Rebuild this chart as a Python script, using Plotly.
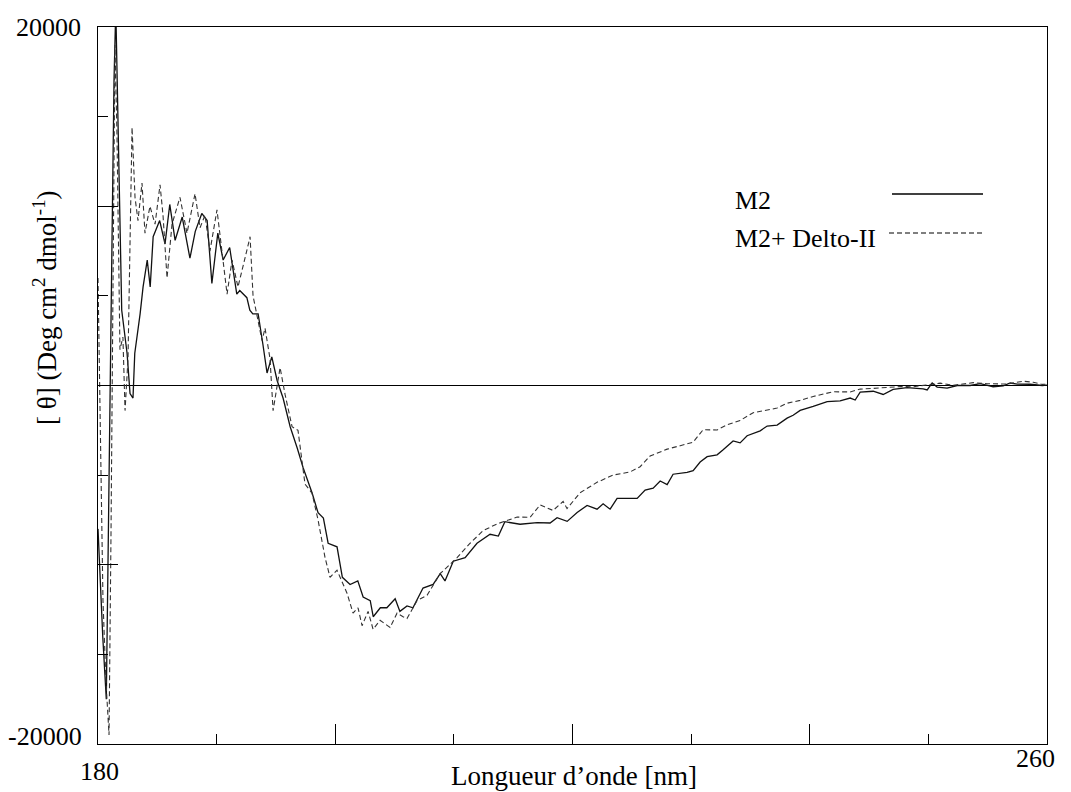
import plotly.graph_objects as go

# M2 (solid)
m2_nm = [180.0, 180.4, 180.7, 180.85, 181.1, 181.35, 181.5, 181.7, 181.85, 182.0, 182.45, 182.7, 182.95,
         183.1, 183.55, 183.8, 184.15, 184.4, 184.65, 185.2, 185.65, 186.05, 186.5, 187.1, 187.75, 188.2,
         188.75, 189.2, 189.6, 190.1, 190.55, 191.1, 191.7, 191.95, 192.55, 192.8, 193.05, 193.5, 193.9,
         194.25, 194.65, 195.1, 195.6, 196.2, 196.8, 197.3, 198.05, 198.55, 199.0, 199.4, 200.15, 200.6,
         201.25, 201.9, 202.35, 202.95, 203.2, 203.8, 204.35, 205.05, 205.45, 206.05, 206.55, 207.4,
         208.25, 208.85, 209.25, 209.95, 210.95, 211.95, 213.05, 213.75, 214.3, 215.58, 217.02, 218.11,
         218.7, 219.55, 220.39, 221.23, 222.07, 222.58, 223.17, 223.76, 224.6, 225.45, 226.12, 226.8,
         227.39, 227.98, 228.48, 229.66, 230.17, 230.76, 231.35, 232.19, 232.7, 233.54, 234.13, 234.72,
         235.82, 236.41, 237.25, 238.09, 238.6, 239.19, 240.29, 241.47, 242.56, 243.41, 243.83, 244.25,
         245.35, 246.19, 247.03, 248.21, 249.56, 249.9, 250.32, 250.74, 251.58, 252.43, 253.52, 254.37,
         255.46, 256.31, 256.9, 257.49, 258.58, 259.6, 260.0]
m2_theta = [-8000, -14000, -17500, -10000, 5000, 17000, 21000, 14000, 8000, 4200, 1800, -450, -700,
            1800, 4000, 5500, 7000, 5500, 8300, 9200, 7900, 10100, 8100, 9400, 7100, 8600,
            9600, 9200, 5700, 8500, 7000, 7700, 5100, 5300, 4900, 4200, 4000, 4000, 2300,
            700, 1600, 280, -700, -2300, -3500, -4600, -6000, -7100, -7400, -8800, -9000, -10700,
            -11100, -10900, -11800, -12000, -12900, -12400, -12400, -11900, -12600, -12300, -12400, -11300,
            -11100, -10500, -10900, -9800, -9600, -8800, -8300, -8400, -7600, -7740, -7650, -7670,
            -7370, -7580, -7085, -6690, -6900, -6600, -6900, -6300, -6300, -6300, -5830, -5730,
            -5330, -5530, -4950, -4850, -4750, -4270, -3970, -3870, -3585, -3090, -3200, -2800,
            -2530, -2260, -2210, -1820, -1660, -1390, -1170, -900, -860, -700, -810, -370,
            -320, -500, -220, -120, -190, -250, 140, -90, -150, 0, 0, 100,
            -70, -20, 140, 80, 70, 0, 20]

# M2 + Delto-II (dashed)
mix_nm = [180.0, 180.17, 180.42, 180.67, 180.93, 181.1, 181.26, 181.43, 181.6, 181.85, 182.1, 182.28,
          182.53, 182.87, 183.12, 183.37, 183.71, 183.96, 184.38, 184.81, 185.23, 185.48, 185.82, 186.24,
          186.91, 187.5, 188.18, 188.6, 189.02, 189.44, 190.03, 190.46, 190.88, 191.3, 191.8, 192.39,
          192.82, 193.07, 193.49, 193.83, 194.08, 194.5, 194.76, 195.09, 195.35, 195.77, 196.36, 196.86,
          197.45, 198.04, 198.55, 199.14, 199.56, 200.15, 200.57, 201.0, 201.5, 201.92, 202.26, 202.77,
          203.19, 203.78, 204.62, 205.21, 205.72, 206.05, 206.9, 207.74, 208.84, 210.27, 211.37, 212.46,
          213.64, 215.33, 216.43, 217.27, 218.36, 219.21, 219.54, 220.64, 222.07, 223.42, 224.86, 225.7,
          226.54, 227.98, 229.08, 230.17, 231.01, 232.19, 233.04, 234.13, 235.23, 236.41, 237.25, 238.09,
          239.19, 240.29, 241.97, 243.41, 244.25, 245.35, 246.53, 247.63, 248.72, 249.9, 250.99, 252.09,
          253.78, 254.96, 256.64, 257.99, 258.84, 259.6, 260.0]
mix_theta = [6000, -2000, -12000, -16500, -19500, -8000, 8000, 19000, 14000, 2000, 2700, -1400,
             1500, 14400, 10500, 9200, 11300, 8500, 10000, 9000, 11200, 9500, 6000, 9000,
             10500, 8500, 10700, 8800, 9500, 7500, 9800, 7500, 5100, 7000, 5500, 7100,
             8300, 5000, 3500, 2500, 3200, 1500, -1400, 0, 1000, -500, -2300, -2500,
             -5500, -6000, -7500, -9600, -10700, -10300, -10900, -11600, -12700, -12400, -13400, -12600,
             -13600, -13100, -13500, -12700, -12900, -13000, -12000, -11700, -10500, -9600, -8800, -8100,
             -7720, -7340, -7350, -6660, -6970, -6470, -6870, -5985, -5400, -5000, -4820, -4530,
             -3935, -3550, -3360, -3160, -2470, -2480, -2190, -1950, -1520, -1370, -1260, -990,
             -830, -610, -350, -360, -200, -160, -110, -60, -70, 30, 130, 10,
             160, 100, 80, 240, 180, 60, 80]

FONT = "'Liberation Serif', 'DejaVu Serif', serif"
FS = 26

fig = go.Figure()
fig.add_trace(go.Scatter(x=m2_nm, y=m2_theta, mode="lines", name="M2",
                         line=dict(color="#111111", width=1.3), showlegend=False))
fig.add_trace(go.Scatter(x=mix_nm, y=mix_theta, mode="lines", name="M2+ Delto-II",
                         line=dict(color="#333333", width=1.1, dash="5px,3px"), showlegend=False))

# page offset of the plot div (default body margin)
OFF = 8
L, R, T, B = 98, 1047, 27, 744
W, H = 1071 - OFF, 792 - OFF


def px(x):
    return (x - L) / (R - L)


def py(y):
    return (B - y) / (B - T)


fig.update_layout(
    width=W, height=H,
    margin=dict(l=L - OFF, r=W - (R - OFF), t=T - OFF, b=H - (B - OFF)),
    paper_bgcolor="white", plot_bgcolor="white",
    font=dict(family=FONT, size=FS, color="black"),
    xaxis=dict(range=[180, 260], showgrid=False, zeroline=False, showline=True, mirror=True,
               linecolor="black", linewidth=1, ticks="inside", tick0=180, dtick=20, ticklen=20,
               tickcolor="black", showticklabels=False,
               minor=dict(ticks="inside", dtick=10, ticklen=10, tickcolor="black")),
    yaxis=dict(range=[-20000, 20000], showgrid=False, zeroline=True, zerolinecolor="black",
               zerolinewidth=1.2, showline=True, mirror=True,
               linecolor="black", linewidth=1, ticks="inside", tick0=0, dtick=10000, ticklen=20,
               tickcolor="black", showticklabels=False,
               minor=dict(ticks="inside", dtick=5000, ticklen=10, tickcolor="black")),
)

ann = [
    dict(text="20000", x=px(83), y=py(27), xanchor="right", yanchor="middle", size=FS),
    dict(text="-20000", x=px(84), y=py(736), xanchor="right", yanchor="middle", size=FS),
    dict(text="180", x=px(99), y=py(771), xanchor="center", yanchor="middle", size=FS),
    dict(text="260", x=px(1035), y=py(758), xanchor="center", yanchor="middle", size=FS),
    dict(text="Longueur d\u2019onde [nm]", x=px(574), y=py(776), xanchor="center", yanchor="middle", size=27),
    dict(text="[ \u03b8] (Deg cm<sup>2</sup> dmol<sup>-1</sup>)", x=px(45), y=py(308),
         xanchor="center", yanchor="middle", textangle=-90, size=27),
    dict(text="M2", x=px(733), y=py(200), xanchor="left", yanchor="middle", size=FS),
    dict(text="M2+ Delto-II", x=px(733), y=py(238), xanchor="left", yanchor="middle", size=FS),
]
for a in ann:
    s = a.pop("size")
    a.update(xref="paper", yref="paper", showarrow=False, font=dict(family=FONT, size=s, color="black"))
    fig.add_annotation(**a)

fig.add_shape(type="line", xref="paper", yref="paper", x0=px(892), x1=px(983), y0=py(194), y1=py(194),
              line=dict(color="black", width=1.3))
fig.add_shape(type="line", xref="paper", yref="paper", x0=px(889), x1=px(983), y0=py(233), y1=py(233),
              line=dict(color="black", width=1.1, dash="5px,3px"))

fig.write_html("out.html")
